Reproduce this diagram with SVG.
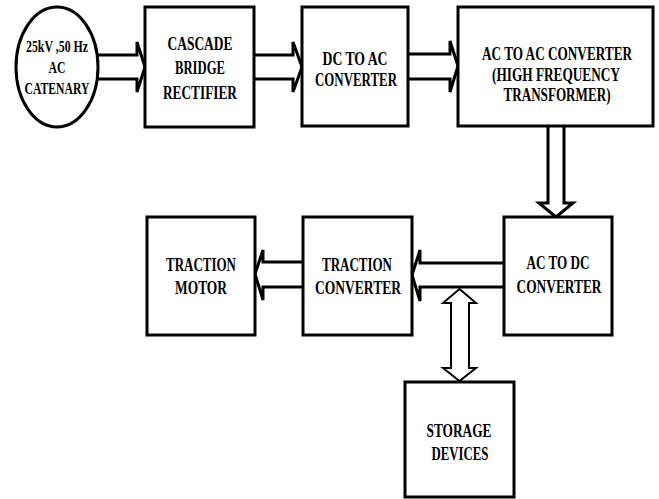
<svg xmlns="http://www.w3.org/2000/svg" width="659" height="499" viewBox="0 0 659 499">
<style>
.b{fill:#fff;stroke:#000;stroke-width:3}
.a{fill:#fff;stroke:#000;stroke-width:3;stroke-linejoin:miter}
.d{fill:#fff;stroke:#000;stroke-width:2}
text{font-family:"Liberation Serif","Times New Roman",serif;font-weight:bold;font-size:18.5px;text-anchor:middle;fill:#000}
.s{font-size:17px}
</style>
<rect width="659" height="499" fill="#fff"/>
<g id="connectors">
<path class="a" d="M97,55 H137 V42 L145,67 L137,92 V79 H97"/>
<path class="a" d="M254,55 H293 V42 L302,67 L293,92 V79 H254"/>
<path class="a" d="M408,54 H450 V41 L458,66 L450,92 V79 H408"/>
<path class="a" d="M548,126 V203 H539 L556,217 L573,203 H564 V126"/>
<path class="a" d="M504,263 H420 V250 L412,275 L420,301 V287 H504"/>
<path class="a" d="M303,262 H263 V250 L255,274 L263,300 V287 H303"/>
<path class="d" d="M459.5,289 L476,303 H469 V368 H476 L459.5,381 L443,368 H451 V303 H443 Z"/>
</g>
<g id="catenary">
<ellipse class="b" cx="57" cy="67" rx="41" ry="60"/>
<text class="s" x="57" y="52" textLength="62" lengthAdjust="spacingAndGlyphs">25kV ,50 Hz</text>
<text class="s" x="57" y="73" textLength="17" lengthAdjust="spacingAndGlyphs">AC</text>
<text class="s" x="57" y="94" textLength="65" lengthAdjust="spacingAndGlyphs">CATENARY</text>
</g>
<g id="rectifier">
<rect class="b" x="145" y="7" width="109" height="120"/>
<text x="200" y="50" textLength="65" lengthAdjust="spacingAndGlyphs">CASCADE</text>
<text x="200" y="74" textLength="50" lengthAdjust="spacingAndGlyphs">BRIDGE</text>
<text x="200" y="99" textLength="74" lengthAdjust="spacingAndGlyphs">RECTIFIER</text>
</g>
<g id="dcac">
<rect class="b" x="302" y="7" width="106" height="119"/>
<text x="355" y="65" textLength="65" lengthAdjust="spacingAndGlyphs">DC TO AC</text>
<text x="356" y="86" textLength="82" lengthAdjust="spacingAndGlyphs">CONVERTER</text>
</g>
<g id="acac">
<rect class="b" x="458" y="7" width="195" height="119"/>
<text x="557" y="60" textLength="150" lengthAdjust="spacingAndGlyphs">AC TO AC CONVERTER</text>
<text x="556" y="81" textLength="128" lengthAdjust="spacingAndGlyphs">(HIGH FREQUENCY</text>
<text x="557" y="101" textLength="107" lengthAdjust="spacingAndGlyphs">TRANSFORMER)</text>
</g>
<g id="acdc">
<rect class="b" x="504" y="217" width="108" height="118"/>
<text x="558" y="269" textLength="63" lengthAdjust="spacingAndGlyphs">AC TO DC</text>
<text x="559" y="293" textLength="85" lengthAdjust="spacingAndGlyphs">CONVERTER</text>
</g>
<g id="tconv">
<rect class="b" x="303" y="217" width="109" height="118"/>
<text x="357" y="271" textLength="70" lengthAdjust="spacingAndGlyphs">TRACTION</text>
<text x="358" y="294" textLength="86" lengthAdjust="spacingAndGlyphs">CONVERTER</text>
</g>
<g id="tmotor">
<rect class="b" x="147" y="217" width="108" height="118"/>
<text x="201" y="271" textLength="70" lengthAdjust="spacingAndGlyphs">TRACTION</text>
<text x="201" y="294" textLength="52" lengthAdjust="spacingAndGlyphs">MOTOR</text>
</g>
<g id="storage">
<rect class="b" x="405" y="382" width="109" height="115"/>
<text x="459" y="437" textLength="65" lengthAdjust="spacingAndGlyphs">STORAGE</text>
<text x="460" y="460" textLength="57" lengthAdjust="spacingAndGlyphs">DEVICES</text>
</g>
</svg>
